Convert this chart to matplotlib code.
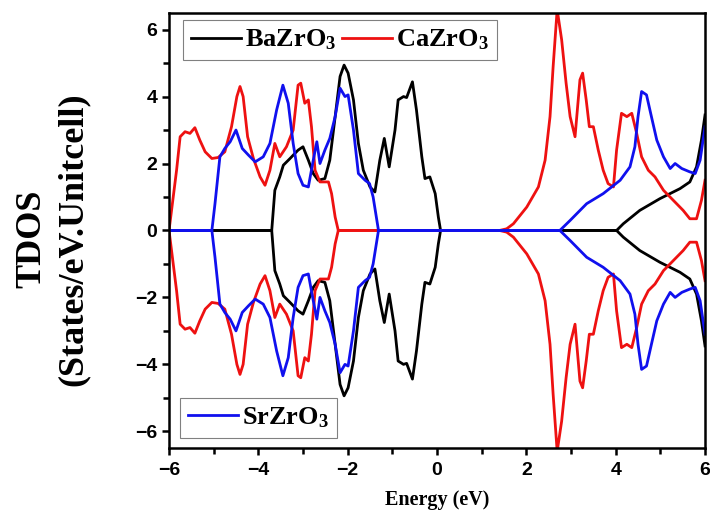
import matplotlib
matplotlib.use("Agg")
import matplotlib.pyplot as plt
import numpy as np

# spin-up TDOS; spin-down is drawn as its mirror image
ba_e = [-6, -3.7, -3.63, -3.52, -3.44, -3.29, -3.11, -3.0, -2.88, -2.77, -2.66, -2.51,
        -2.4, -2.28, -2.17, -2.08, -1.99, -1.87, -1.76, -1.65, -1.5, -1.39, -1.28,
        -1.18, -1.07, -0.94, -0.87, -0.75, -0.68, -0.55, -0.46, -0.34, -0.27, -0.16,
        -0.04, 0.03, 0.08, 4.02, 4.17, 4.54, 4.99, 5.44, 5.66, 5.81, 5.92, 6.0]
ba_d = [0, 0, 1.2, 1.6, 1.95, 2.15, 2.4, 2.5, 2.1, 1.7, 1.5, 1.55,
        2.1, 3.4, 4.6, 4.94, 4.7, 3.9, 2.6, 1.8, 1.3, 1.15, 2.1,
        2.75, 1.9, 3.0, 3.9, 4.0, 3.97, 4.44, 3.6, 2.2, 1.55, 1.6,
        1.1, 0.4, 0, 0, 0.2, 0.6, 0.95, 1.25, 1.45, 1.9, 2.7, 3.45]

ca_e = [-6, -5.98, -5.83, -5.75, -5.64, -5.53, -5.42, -5.31, -5.19, -5.04, -4.9, -4.75,
        -4.6, -4.48, -4.41, -4.34, -4.24, -4.11, -3.96, -3.85, -3.74, -3.63, -3.52,
        -3.37, -3.22, -3.11, -3.05, -2.96, -2.88, -2.81, -2.73, -2.62, -2.43, -2.36,
        -2.28, -2.21, 1.4, 1.56, 1.71, 2.01, 2.27, 2.42, 2.53, 2.6, 2.69, 2.79, 2.89,
        2.98, 3.09, 3.2, 3.26, 3.34, 3.41, 3.5, 3.61, 3.72, 3.83, 3.95, 4.02, 4.13,
        4.25, 4.36, 4.47, 4.58, 4.73, 4.88, 5.07, 5.29, 5.51, 5.66, 5.81, 5.92, 6.0]
ca_d = [0, 0.2, 1.8, 2.8, 2.95, 2.9, 3.07, 2.7, 2.35, 2.15, 2.18, 2.35,
        3.1, 4.0, 4.3, 4.0, 2.8, 2.15, 1.6, 1.35, 1.8, 2.6, 2.2,
        2.5, 3.0, 4.34, 4.4, 3.8, 3.9, 3.1, 1.8, 1.45, 1.45, 1.1,
        0.4, 0, 0, 0.05, 0.2, 0.7, 1.3, 2.1, 3.4, 4.9, 6.6, 5.7, 4.4,
        3.4, 2.8, 4.5, 4.7, 3.9, 3.1, 3.1, 2.4, 1.8, 1.4, 1.3, 2.4, 3.5,
        3.4, 3.5, 2.9, 2.2, 1.8, 1.6, 1.2, 0.9, 0.6, 0.35, 0.35, 0.9, 1.5]

sr_e = [-6, -5.04, -4.97, -4.86, -4.75, -4.63, -4.5, -4.36, -4.22, -4.07, -3.89, -3.74,
        -3.59, -3.45, -3.33, -3.22, -3.11, -3.0, -2.88, -2.77, -2.69, -2.62, -2.51,
        -2.4, -2.28, -2.17, -2.06, -1.99, -1.87, -1.76, -1.61, -1.51, -1.43, -1.31,
        2.75, 2.98, 3.35, 3.72, 4.1, 4.32, 4.43, 4.5, 4.58, 4.69, 4.8, 4.92, 5.07,
        5.22, 5.33, 5.48, 5.66, 5.78, 5.89, 6.0]
sr_d = [0, 0, 0.8, 2.2, 2.45, 2.65, 3.0, 2.45, 2.25, 2.05, 2.2, 2.6,
        3.6, 4.34, 3.8, 2.6, 1.7, 1.35, 1.3, 2.1, 2.65, 2.0, 2.4,
        2.75, 3.4, 4.25, 4.0, 4.05, 3.0, 1.7, 1.5, 1.4, 1.0, 0,
        0, 0.3, 0.8, 1.1, 1.5, 1.9, 2.5, 3.4, 4.15, 4.05, 3.4, 2.7, 2.2,
        1.85, 2.0, 1.85, 1.75, 1.7, 2.1, 3.1]

plt.rcParams["mathtext.fontset"] = "custom"
plt.rcParams["mathtext.rm"] = "Liberation Serif:bold"
plt.rcParams["mathtext.bf"] = "Liberation Serif:bold"
plt.rcParams["mathtext.default"] = "rm"

fig = plt.figure(figsize=(7.1, 5.15), dpi=100)
ax = fig.add_axes([0.238, 0.13, 0.755, 0.845])

lw = 2.0
kw = dict(lw=lw, solid_joinstyle="round")
l_ba, = ax.plot(ba_e, ba_d, color="black", **kw)
ax.plot(ba_e, -np.array(ba_d), color="black", **kw)
l_ca, = ax.plot(ca_e, ca_d, color="#ee1111", **kw)
ax.plot(ca_e, -np.array(ca_d), color="#ee1111", **kw)
l_sr, = ax.plot(sr_e, sr_d, color="#1010ee", **kw)
ax.plot(sr_e, -np.array(sr_d), color="#1010ee", **kw)

ax.set_xlim(-6, 6)
ax.set_ylim(-6.5, 6.5)
ax.set_xticks(np.arange(-6, 7, 2))
ax.set_xticks(np.arange(-5, 6, 2), minor=True)
ax.set_yticks(np.arange(-6, 7, 2))
ax.set_yticks(np.arange(-5, 6, 2), minor=True)
ax.tick_params(which="both", direction="out", width=1.8, top=False, right=False)
ax.tick_params(which="major", length=5)
ax.tick_params(which="minor", length=4)
ax.tick_params(axis="x", pad=5)
for lab in ax.get_xticklabels() + ax.get_yticklabels():
    lab.set_fontfamily("Liberation Sans")
    lab.set_fontweight("bold")
    lab.set_fontsize(14)
for s in ax.spines.values():
    s.set_linewidth(1.8)

ax.set_xlabel("Energy (eV)", fontfamily="Liberation Serif", fontweight="bold",
              fontsize=14.5, labelpad=8)
ax.set_ylabel("TDOS\n(States/eV.Unitcell)", fontfamily="Liberation Serif",
              fontweight="bold", fontsize=26, linespacing=1.35)
ax.yaxis.set_label_coords(-0.148, 0.48)

leg_font = {"family": "Liberation Serif", "weight": "bold", "size": 19}
leg1 = ax.legend([l_ba, l_ca], ["BaZrO$_3$", "CaZrO$_3$"], ncol=2, loc="upper left",
                 bbox_to_anchor=(0.026, 0.984), borderaxespad=0, fancybox=False,
                 edgecolor="gray", framealpha=1, handlelength=1.9, handletextpad=0.15,
                 columnspacing=0.2, borderpad=0.3, prop=leg_font)
leg1.get_frame().set_linewidth(0.8)
ax.add_artist(leg1)
leg2 = ax.legend([l_sr], ["SrZrO$_3$"], loc="lower left",
                 bbox_to_anchor=(0.02, 0.023), borderaxespad=0, fancybox=False,
                 edgecolor="gray", framealpha=1, handlelength=1.9, handletextpad=0.15,
                 borderpad=0.3, prop=leg_font)
leg2.get_frame().set_linewidth(0.8)

fig.savefig("out.png", dpi=100)
